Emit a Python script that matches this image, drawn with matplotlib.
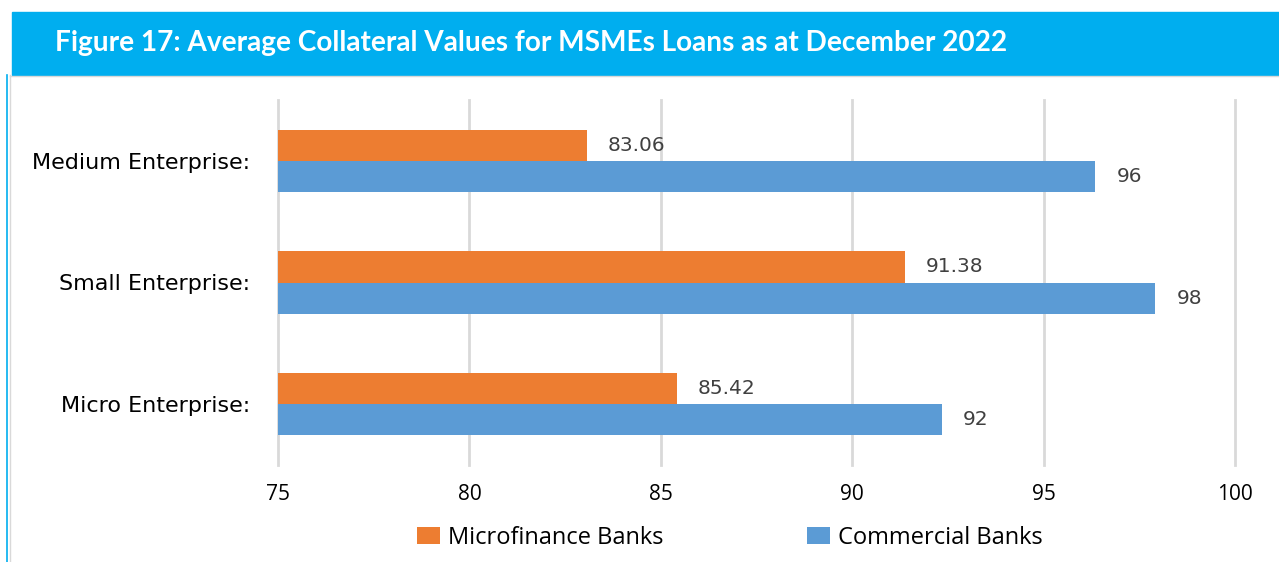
import matplotlib.pyplot as plt
from matplotlib.patches import Rectangle
import numpy as np

# data
categories = ["Micro Enterprise:", "Small Enterprise:", "Medium Enterprise:"]
microfinance = [85.42, 91.38, 83.06]
commercial = [92.35, 97.92, 96.35]
x_ticks = [75, 80, 85, 90, 95, 100]

orange = "#ED7D31"
blue = "#5B9BD5"
banner = "#00AEEF"

fig = plt.figure(figsize=(12.79, 5.62), dpi=100)

# header banner
fig.patches.append(Rectangle((12/1279, 1 - 75/562), 1, 63/562, transform=fig.transFigure,
                             color=banner, zorder=0))
fig.text(55/1279, 1 - 43/562, "Figure 17: Average Collateral Values for MSMEs Loans as at December 2022",
         color="white", fontsize=20.2, fontweight="bold", family="Lato", va="center", ha="left")
# left border lines
fig.add_artist(plt.Line2D([7/1279, 7/1279], [0, 1 - 75/562], transform=fig.transFigure,
                          color=banner, lw=1.2))
fig.add_artist(plt.Line2D([9.5/1279, 9.5/1279], [0, 1 - 75/562], transform=fig.transFigure,
                          color="#D9D9D9", lw=1))
fig.add_artist(plt.Line2D([9.5/1279, 1], [1 - 76/562, 1 - 76/562], transform=fig.transFigure,
                          color="#D9D9D9", lw=1))

ax = fig.add_axes([278/1279, 1 - 465/562, (1235 - 278)/1279, 365/562])
y = np.arange(len(categories))
h = 0.255
ax.barh(y + h/2, microfinance, height=h, color=orange, label="Microfinance Banks", zorder=3)
ax.barh(y - h/2, commercial, height=h, color=blue, label="Commercial Banks", zorder=3)

for yi, v in zip(y, microfinance):
    ax.text(v + 0.55, yi + h/2, f"{v:.2f}", va="center", ha="left", fontsize=14.5,
            color="#404040", family="DejaVu Sans")
for yi, v in zip(y, commercial):
    ax.text(v + 0.55, yi - h/2, f"{v:.0f}", va="center", ha="left", fontsize=14.5,
            color="#404040", family="DejaVu Sans")

ax.set_xlim(75, 100)
ax.set_ylim(-0.5, 2.5)
ax.set_xticks(x_ticks)
ax.set_xticklabels([str(t) for t in x_ticks], family="Open Sans", fontsize=15)
ax.set_yticks(y)
ax.set_yticklabels(categories, family="DejaVu Sans", fontsize=16)
ax.tick_params(axis="both", length=0)
ax.tick_params(axis="x", pad=14)
ax.tick_params(axis="y", pad=20)
ax.grid(axis="x", color="#D9D9D9", lw=2, zorder=0)
for gl in ax.get_xgridlines():
    gl.set_clip_on(False)
for s in ax.spines.values():
    s.set_visible(False)

handles, labels = ax.get_legend_handles_labels()
leg = fig.legend(handles, labels, loc="center", bbox_to_anchor=(730/1279, 1 - 538/562), ncol=2,
                 frameon=False, prop={"family": "Open Sans", "size": 17},
                 handlelength=0.95, handleheight=0.75, handletextpad=0.35, columnspacing=6.1)

fig.savefig("out.png", dpi=100)
